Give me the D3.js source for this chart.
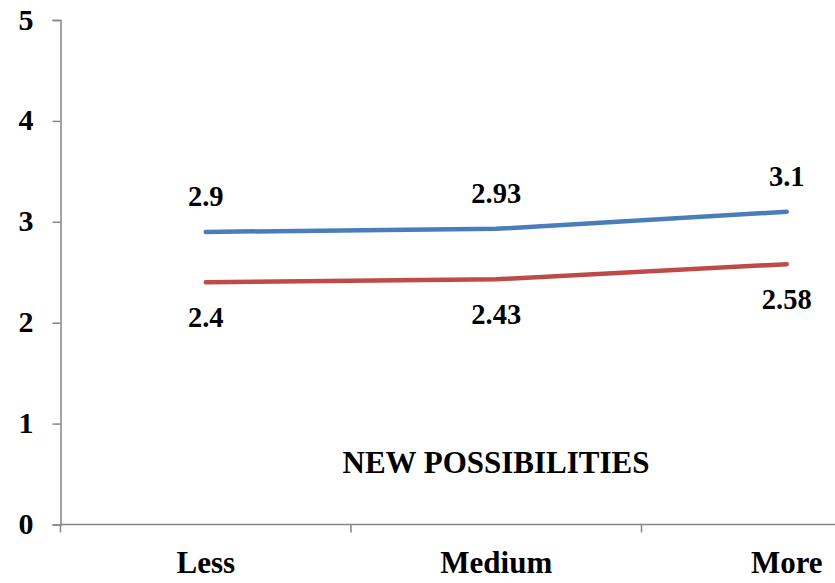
<!DOCTYPE html>
<html>
<head>
<meta charset="utf-8">
<script src="https://cdn.jsdelivr.net/npm/d3@7"></script>
<style>
  html, body { margin: 0; padding: 0; background: #fff; }
  svg { display: block; }
  text { font-family: "Liberation Serif", "Times New Roman", serif; font-weight: bold; fill: #000; }
</style>
</head>
<body>
<svg id="chart" width="835" height="583"></svg>
<script>
// Levels on the x axis
const categories = ["Less", "Medium", "More"];
// Upper (blue) and lower (red) series
const seriesUpper = [2.9, 2.93, 3.1];
const seriesLower = [2.4, 2.43, 2.58];
const yTicks = [0, 1, 2, 3, 4, 5];
const chartTitle = "NEW POSSIBILITIES";

(function () {
  const svg = d3.select("#chart");
  const W = 835;

  const plotLeft = 60.5, plotBottom = 524.5, plotTop = 20;
  const bandW = 290.5;

  const x = d3.scaleBand().domain(categories).range([plotLeft, plotLeft + bandW * categories.length]).padding(0);
  const y = d3.scaleLinear().domain([0, 5]).range([plotBottom, plotTop]);

  const axisColor = "#868686";

  // Y axis
  const yAxis = svg.append("g").attr("transform", `translate(${plotLeft},0)`)
    .call(d3.axisLeft(y).tickValues(yTicks).tickSize(8).tickPadding(19).tickFormat(d3.format("d")));
  yAxis.select(".domain").attr("stroke", axisColor).attr("stroke-width", 1.5);
  yAxis.selectAll(".tick line").attr("stroke", axisColor).attr("stroke-width", 1.5);
  yAxis.selectAll(".tick text").style("font-size", "30px").attr("dy", "0.3em");

  // X axis: line across to the right edge, ticks at band boundaries
  const xg = svg.append("g");
  xg.append("line").attr("x1", plotLeft).attr("x2", W).attr("y1", plotBottom).attr("y2", plotBottom)
    .attr("stroke", axisColor).attr("stroke-width", 1.5);
  const boundaries = categories.map(c => x(c));
  xg.selectAll("line.tk").data(boundaries).join("line").attr("class", "tk")
    .attr("x1", d => d).attr("x2", d => d).attr("y1", plotBottom).attr("y2", plotBottom + 8)
    .attr("stroke", axisColor).attr("stroke-width", 1.5);
  xg.selectAll("text.cat").data(categories).join("text").attr("class", "cat")
    .attr("x", d => x(d) + x.bandwidth() / 2).attr("y", 573)
    .attr("text-anchor", "middle").style("font-size", "31px").text(d => d);

  const cx = (d, i) => x(categories[i]) + x.bandwidth() / 2;
  const line = d3.line().x((d, i) => cx(d, i)).y(d => y(d));

  const series = [
    { values: seriesUpper, color: "#4A7EBB", dy: -26 },
    { values: seriesLower, color: "#BE4B48", dy: 45 }
  ];

  series.forEach(s => {
    svg.append("path").datum(s.values).attr("d", line)
      .attr("fill", "none").attr("stroke", s.color).attr("stroke-width", 4.5)
      .attr("stroke-linecap", "round").attr("stroke-linejoin", "round");
    svg.selectAll(null).data(s.values).join("text")
      .attr("x", (d, i) => cx(d, i)).attr("y", d => y(d) + s.dy)
      .attr("text-anchor", "middle").style("font-size", "28.5px").text(d => d);
  });

  svg.append("text").attr("x", 496).attr("y", 473).attr("text-anchor", "middle")
    .style("font-size", "31px").text(chartTitle);
})();
</script>
</body>
</html>
